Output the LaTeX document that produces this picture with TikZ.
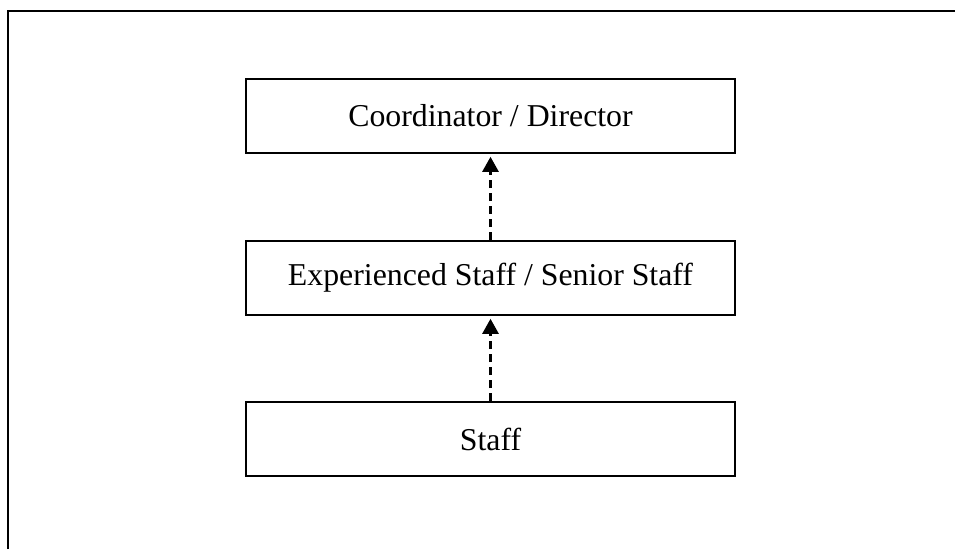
\documentclass[tikz,border=0pt]{standalone}
\usepackage{fontspec}
\setmainfont{Liberation Serif}
\usetikzlibrary{arrows.meta}
\begin{document}
\begin{tikzpicture}[x=1pt,y=-1pt,
  rolebox/.style={draw=black, line width=1.6pt, minimum width=489pt, minimum height=74pt, inner sep=0pt,
    font=\fontsize{31.8}{38}\selectfont},
  promo/.style={draw=black, line width=2.6pt, dash pattern=on 8pt off 5pt,
    -{Triangle[length=15pt,width=16pt]}, shorten >=3pt}]
\useasboundingbox (0,0) rectangle (955,549);
\coordinate (fbl) at (8,549);
\coordinate (ftl) at (8,11);
\coordinate (ftr) at (955,11);
\draw[line width=2pt] (fbl) -- (ftl) -- (ftr);
\node[rolebox] (coord) at (490.5,116) {Coordinator / Director};
\node[rolebox] (senior) at (490.5,278) {Experienced Staff / Senior Staff};
\node[rolebox] (staff) at (490.5,439) {Staff};
\draw[promo] (staff.north) -- (senior.south);
\draw[promo] (senior.north) -- (coord.south);
\end{tikzpicture}
\end{document}
